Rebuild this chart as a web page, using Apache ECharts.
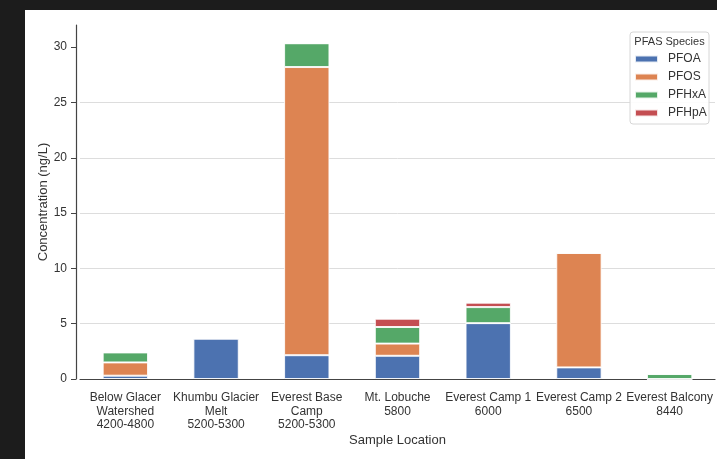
<!DOCTYPE html>
<html>
<head>
<meta charset="utf-8">
<script src="https://cdn.jsdelivr.net/npm/echarts@6/dist/echarts.min.js"></script>
<style>
  html, body { margin: 0; padding: 0; background: #1c1c1c; }
  #chart { width: 717px; height: 459px; }
</style>
</head>
<body>
<div id="chart"></div>
<script>
// sample locations (with altitude in m)
const locations = [
  'Below Glacer\nWatershed\n4200-4800',
  'Khumbu Glacier\nMelt\n5200-5300',
  'Everest Base\nCamp\n5200-5300',
  'Mt. Lobuche\n5800',
  'Everest Camp 1\n6000',
  'Everest Camp 2\n6500',
  'Everest Balcony\n8440'
]

// concentrations in ng/L
const pfoa  = [0.3, 3.65, 2.15, 2.1, 5.05, 1.05, 0]
const pfos  = [1.2, 0, 26.05, 1.1, 0, 10.35, 0]
const pfhxa = [0.9, 0, 2.15, 1.5, 1.45, 0, 0.45]
const pfhpa = [0, 0, 0, 0.75, 0.4, 0, 0]

const yTicks = [0, 5, 10, 15, 20, 25, 30]

const species = ['PFOA', 'PFOS', 'PFHxA', 'PFHpA']
const colors = ['#4c72b0', '#dd8452', '#55a868', '#c44e52']

const font = '"Liberation Sans", Arial, Helvetica, sans-serif'
const ink = '#333'

const chart = echarts.init(document.getElementById('chart'))

function barSeries(name, data) {
  return {
    name,
    type: 'bar',
    stack: 'total',
    data,
    barWidth: '50%',
    itemStyle: { borderColor: 'rgba(255,255,255,0.85)', borderWidth: 1 }
  }
}

chart.setOption({
  backgroundColor: '#1c1c1c',
  animation: false,
  color: colors,
  textStyle: { fontFamily: font },
  graphic: [
    // white panel over the photo
    { type: 'rect', z: -100, shape: { x: 25, y: 10, width: 692, height: 449 }, style: { fill: '#ffffff' } },
    // legend frame and title
    { type: 'rect', z: 10, shape: { x: 630, y: 32, width: 79, height: 92, r: 3 },
      style: { fill: 'rgba(255,255,255,0.9)', stroke: '#d6d6d6', lineWidth: 1 } },
    { type: 'text', z: 11, x: 669.5, y: 42,
      style: { text: 'PFAS Species', fill: ink, font: '11px ' + font, align: 'center', verticalAlign: 'middle' } }
  ],
  legend: {
    data: species,
    orient: 'vertical',
    left: 634,
    top: 52,
    padding: 0,
    itemGap: 4,
    itemWidth: 23,
    itemHeight: 7,
    icon: 'rect',
    z: 12,
    textStyle: { fontSize: 12, color: ink, lineHeight: 14, padding: [0, 0, 0, 5] }
  },
  grid: { left: 80, right: 2, top: 25, bottom: 80 },
  xAxis: {
    type: 'category',
    data: locations,
    offset: 5,
    name: 'Sample Location',
    nameLocation: 'middle',
    nameGap: 50,
    nameMoveOverlap: false,
    nameTextStyle: { fontSize: 13, color: ink },
    axisLine: { lineStyle: { color: '#444', width: 1.2 } },
    axisTick: { alignWithLabel: true, length: 5, lineStyle: { color: '#444' } },
    axisLabel: { fontSize: 12, color: ink, lineHeight: 13.5, margin: 7, interval: 0 }
  },
  yAxis: {
    type: 'value',
    min: 0,
    max: 32,
    interval: 5,
    offset: 4,
    name: 'Concentration (ng/L)',
    nameLocation: 'middle',
    nameGap: 26,
    nameMoveOverlap: false,
    nameTextStyle: { fontSize: 13, color: ink },
    axisLine: { show: true, lineStyle: { color: '#444', width: 1.2 } },
    axisTick: { show: true, length: 5, customValues: yTicks, lineStyle: { color: '#444' } },
    axisLabel: { fontSize: 12, color: ink, margin: 9, customValues: yTicks },
    splitLine: { showMaxLine: false, lineStyle: { color: '#dddddd', width: 1 } }
  },
  series: [
    barSeries('PFOA', pfoa),
    barSeries('PFOS', pfos),
    barSeries('PFHxA', pfhxa),
    barSeries('PFHpA', pfhpa)
  ]
})
</script>
</body>
</html>
